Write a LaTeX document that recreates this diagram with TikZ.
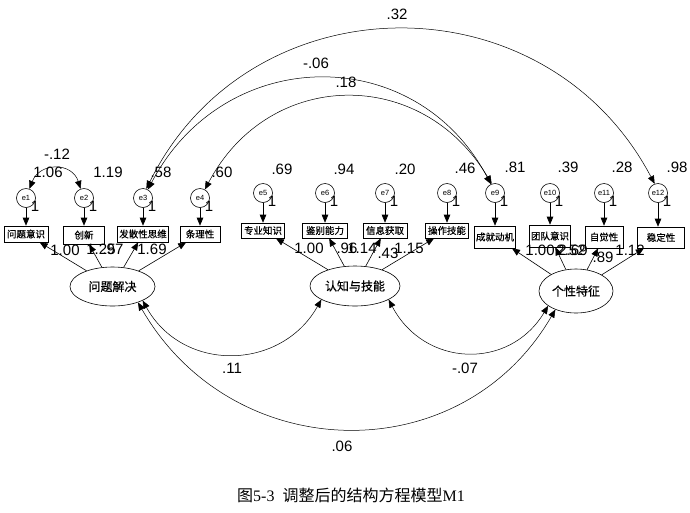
\documentclass[tikz,border=0pt]{standalone}
\usepackage{fontspec}
\setmainfont{Liberation Sans}
\newfontfamily\cjk{Noto Sans CJK SC}
\newfontfamily\cjkb{Noto Sans CJK SC}[FakeBold=0.6]
\newfontfamily\capser{Liberation Serif}
\usetikzlibrary{shapes.geometric,arrows.meta,calc}
\begin{document}
\begin{tikzpicture}[x=1pt,y=-1pt,
  every node/.style={inner sep=0pt},
  err/.style={draw, circle, minimum size=19pt, line width=0.6pt, font=\fontsize{7.5}{7.5}\selectfont},
  obs/.style={draw, rectangle, line width=0.6pt, font=\cjkb\fontsize{9.5}{9.5}\selectfont, inner xsep=1.5pt, minimum height=16pt},
  lat/.style={draw, ellipse, line width=0.6pt, font=\cjkb\fontsize{12}{12}\selectfont},
  num/.style={font=\fontsize{15}{15}\selectfont},
  arr/.style={-{Triangle[length=8pt,width=6.5pt]}, line width=0.6pt},
  cov/.style={{Triangle[length=8pt,width=6.5pt]}-{Triangle[length=8pt,width=6.5pt]}, line width=0.5pt},
]
\useasboundingbox (0,0) rectangle (690,512);

% error terms
\node[err] (e1) at (26,198) {e1};
\node[err] (e2) at (84,198) {e2};
\node[err] (e3) at (143,198) {e3};
\node[err] (e4) at (200,198) {e4};
\node[err] (e5) at (263,193) {e5};
\node[err] (e6) at (325,193) {e6};
\node[err] (e7) at (385,193) {e7};
\node[err] (e8) at (447,193) {e8};
\node[err] (e9) at (495,193) {e9};
\node[err] (e10) at (550,193) {e10};
\node[err] (e11) at (604,193) {e11};
\node[err] (e12) at (658,193) {e12};

% observed variables
\node[obs, minimum width=44pt] (b1) at (26,234) {问题意识};
\node[obs, minimum width=41pt, minimum height=18pt] (b2) at (84,235) {创新};
\node[obs, minimum width=47pt] (b3) at (143,234) {发散性思维};
\node[obs, minimum width=40pt] (b4) at (200,234) {条理性};
\node[obs, minimum width=43pt, minimum height=15pt] (b5) at (263,230.5) {专业知识};
\node[obs, minimum width=45pt, minimum height=15pt] (b6) at (325,230.5) {鉴别能力};
\node[obs, minimum width=44pt, minimum height=15pt] (b7) at (385,230.5) {信息获取};
\node[obs, minimum width=43pt, minimum height=15pt] (b8) at (447,230.5) {操作技能};
\node[obs, minimum width=39pt, minimum height=22pt] (b9) at (495,237) {成就动机};
\node[obs, minimum width=39pt, minimum height=22pt] (b10) at (550,236) {团队意识};
\node[obs, minimum width=38pt, minimum height=22pt] (b11) at (604,237) {自觉性};
\node[obs, minimum width=47pt, minimum height=21pt] (b12) at (661,237.5) {稳定性};

% latent variables
\node[lat, minimum width=85pt, minimum height=39pt] (F1) at (112.5,286.5) {问题解决};
\node[lat, minimum width=90pt, minimum height=40pt] (F2) at (355,286) {认知与技能};
\node[lat, minimum width=74pt, minimum height=44pt] (F3) at (576,291) {个性特征};

% error -> indicator
\foreach \i in {1,...,12}{
  \draw[arr] (e\i) -- (e\i |- b\i.north);
}

% loadings
\foreach \f/\b in {F1/b1,F1/b2,F1/b3,F1/b4,F2/b5,F2/b6,F2/b7,F2/b8,F3/b9,F3/b10,F3/b11,F3/b12}{
  \draw[arr] (\f) -- (\b);
}

% covariances among errors
\draw[cov] (e1.70) .. controls (40,162) and (72,162) .. (e2.110);
\draw[cov] (e3.70) .. controls (250,-21) and (545,-24) .. (e12.110);
\draw[cov] (e3.60) .. controls (225,43) and (416,42) .. (e9.115);
\draw[cov] (e4.60) .. controls (269,68) and (422,66) .. (e9.110);

% covariances among factors
\draw[cov] (F1.-25) .. controls (183,373) and (281,371) .. (F2.-158);
\draw[cov] (F2.-22) .. controls (424,367) and (509,371) .. (F3.-152);
\draw[cov] (F1.-32) .. controls (233,467) and (461,472) .. (F3.-138);

% "1" labels
\foreach \i in {1,...,12}{
  \node[num, anchor=center] (one\i) at ($(e\i)+(9,8)$) {1};
}

% variance / covariance labels
\node[num] (lc12) at (57,154) {-.12};
\node[num] (lv1) at (48,172) {1.06};
\node[num] (lv2) at (108,172) {1.19};
\node[num] (lv3) at (161,172) {.58};
\node[num] (lv4) at (222,172) {.60};
\node[num] (lv5) at (282,169) {.69};
\node[num] (lv6) at (344,169) {.94};
\node[num] (lv7) at (405,169) {.20};
\node[num] (lv8) at (465,168) {.46};
\node[num] (lv9) at (515,167) {.81};
\node[num] (lv10) at (568,167) {.39};
\node[num] (lv11) at (622,167) {.28};
\node[num] (lv12) at (677,167) {.98};
\node[num] (l32) at (397,14) {.32};
\node[num] (l06a) at (316,63) {-.06};
\node[num] (l18) at (346,82) {.18};
\node[num] (l11) at (232,368) {.11};
\node[num] (l07) at (465,368) {-.07};
\node[num] (l06b) at (342,446) {.06};

% loading labels
\node[num] (w1) at (65,250) {1.00};
\node[num] (w2) at (101,249) {1.25};
\node[num] (w3) at (113,249) {.97};
\node[num] (w4) at (152,249) {1.69};
\node[num] (w5) at (309,248) {1.00};
\node[num] (w6) at (347,248) {.96};
\node[num] (w7) at (362,248) {1.14};
\node[num] (w8) at (388,253) {.43};
\node[num] (w9) at (409,248) {1.15};
\node[num] (w10) at (540,250) {1.00};
\node[num] (w11) at (571,250) {2.52};
\node[num] (w12) at (573,250) {2.69};
\node[num] (w13) at (603,257) {.89};
\node[num] (w14) at (630,250) {1.12};

% caption
\node[font=\fontsize{16}{16}\selectfont] (cap) at (351,495) {\cjk 图\capser 5-3\ \ \cjk 调整后的结构方程模型\capser M1};
\end{tikzpicture}
\end{document}
